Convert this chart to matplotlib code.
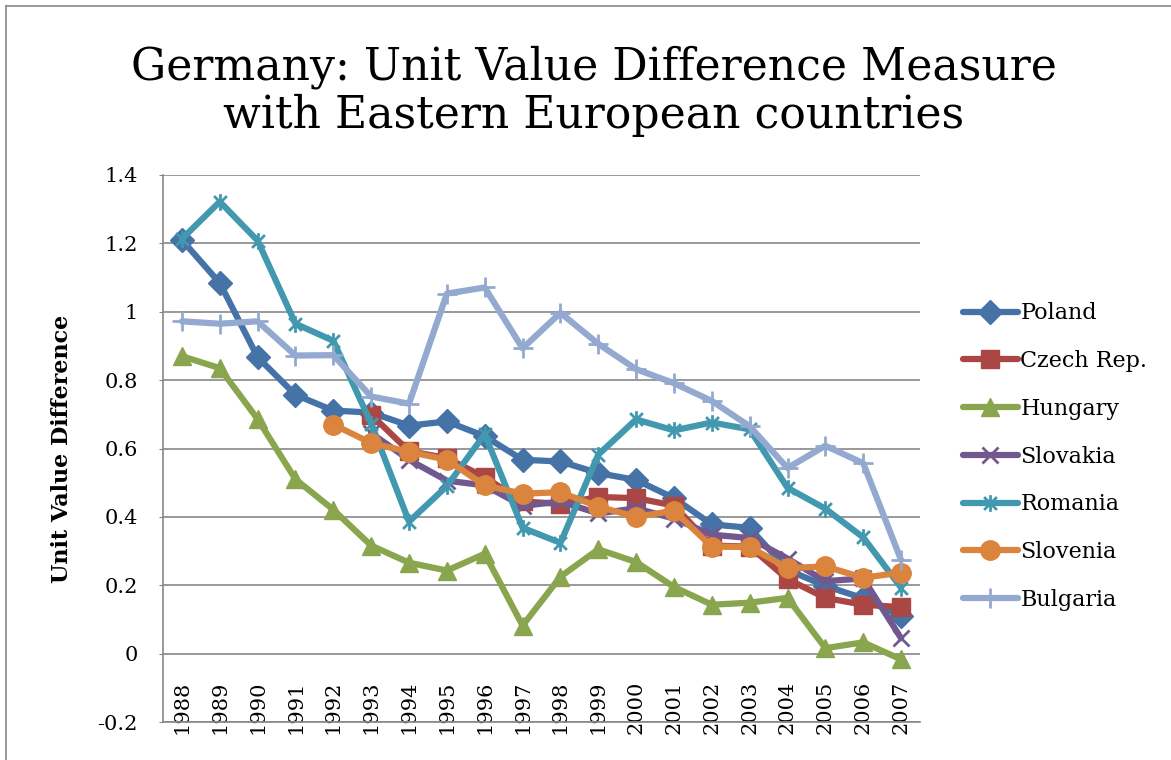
import numpy as np
import matplotlib
matplotlib.use("Agg")
import matplotlib.pyplot as plt
from matplotlib.path import Path
from matplotlib.lines import Line2D

nan = np.nan

#Data
years = [str(y) for y in range(1988, 2008)]
poland = [1.21, 1.084, 0.867, 0.757, 0.711, 0.705, 0.667, 0.679, 0.636, 0.567,
          0.562, 0.528, 0.508, 0.455, 0.378, 0.368, 0.245, 0.198, 0.162, 0.11]
czech = [nan, nan, nan, nan, nan, 0.699, 0.592, 0.572, 0.516, 0.445,
         0.438, 0.458, 0.455, 0.433, 0.316, 0.313, 0.218, 0.163, 0.143, 0.136]
hungary = [0.87, 0.835, 0.686, 0.51, 0.421, 0.316, 0.266, 0.243, 0.292, 0.082,
           0.225, 0.305, 0.268, 0.195, 0.143, 0.149, 0.163, 0.016, 0.033, -0.017]
slovakia = [nan, nan, nan, nan, nan, 0.645, 0.567, 0.506, 0.492, 0.432,
            0.445, 0.41, 0.425, 0.395, 0.348, 0.338, 0.278, 0.212, 0.22, 0.045]
romania = [1.213, 1.322, 1.208, 0.965, 0.915, 0.673, 0.386, 0.49, 0.642, 0.368,
           0.324, 0.582, 0.685, 0.653, 0.676, 0.656, 0.485, 0.424, 0.34, 0.193]
slovenia = [nan, nan, nan, nan, 0.67, 0.616, 0.59, 0.567, 0.492, 0.468,
            0.472, 0.43, 0.4, 0.418, 0.313, 0.312, 0.25, 0.255, 0.222, 0.237]
bulgaria = [0.972, 0.965, 0.972, 0.872, 0.873, 0.752, 0.731, 1.053, 1.071, 0.893,
            0.997, 0.906, 0.832, 0.791, 0.739, 0.665, 0.543, 0.608, 0.557, 0.274]

names = ["Poland", "Czech Rep.", "Hungary", "Slovakia", "Romania", "Slovenia", "Bulgaria"]
series = [poland, czech, hungary, slovakia, romania, slovenia, bulgaria]
colors = ["#4572A7", "#AA4643", "#89A54E", "#71588F", "#4198AF", "#DB843D", "#93A9CF"]

#Excel-like star marker (x with a vertical bar)
star = Path([(-1, -1), (1, 1), (-1, 1), (1, -1), (0, -1.3), (0, 1.3)],
            [Path.MOVETO, Path.LINETO, Path.MOVETO, Path.LINETO, Path.MOVETO, Path.LINETO])

markers = ["D", "s", "^", "x", star, "o", "+"]
msizes = [12, 13, 13, 11, 12, 14, 15]

plt.rcParams['font.family'] = 'DejaVu Serif'

fig = plt.figure(figsize=(11.71, 7.6), dpi=100)
ax = fig.add_axes([163/1171, 1 - 722/760, (920-163)/1171, (722-175)/760])

x = np.arange(len(years))
for name, vals, c, m, ms in zip(names, series, colors, markers, msizes):
    filled = m in ["D", "s", "^", "o"]
    ax.plot(x, vals, color=c, lw=4.5, marker=m, markersize=ms,
            markerfacecolor=c, markeredgecolor=c,
            markeredgewidth=1 if filled else 2, label=name,
            solid_joinstyle='round', solid_capstyle='round')

ax.set_xlim(-0.5, len(years) - 0.5)
ax.set_ylim(-0.2, 1.4)
ax.set_yticks(np.arange(-0.2, 1.41, 0.2))
ax.set_yticklabels(["-0.2", "0", "0.2", "0.4", "0.6", "0.8", "1", "1.2", "1.4"])
ax.set_xticks(x)
ax.set_xticklabels(years, rotation=90)

ax.grid(axis='y', color='#878787', lw=1.2)
ax.set_axisbelow(True)
for s in ['top', 'right']:
    ax.spines[s].set_visible(False)
ax.spines['left'].set_color('#878787')
ax.spines['left'].set_linewidth(1.2)
ax.spines['bottom'].set_color('#878787')
ax.spines['bottom'].set_linewidth(1.2)

ax.tick_params(axis='y', labelsize=15, length=3, color='#878787', pad=15)
ax.tick_params(axis='x', labelsize=15, length=0, pad=-30)

ax.set_ylabel("Unit Value Difference", fontsize=16, fontweight='bold')
ax.yaxis.set_label_coords(-90/757, 0.5)

fig.text(0.507, 0.94, "Germany: Unit Value Difference Measure\nwith Eastern European countries",
         ha='center', va='top', fontsize=31.8, linespacing=1.13)

ax.legend(loc='center left', bbox_to_anchor=(1.03, 0.485), frameon=False,
          fontsize=16, handlelength=2.5, handletextpad=0.1, labelspacing=1.16)

#Outer chart border
fig.add_artist(Line2D([6/1171, 6/1171], [0, 1 - 6/760], transform=fig.transFigure, color='#878787', lw=1.2))
fig.add_artist(Line2D([6/1171, 1], [1 - 6/760, 1 - 6/760], transform=fig.transFigure, color='#878787', lw=1.2))

fig.savefig("out.png", dpi=100)
